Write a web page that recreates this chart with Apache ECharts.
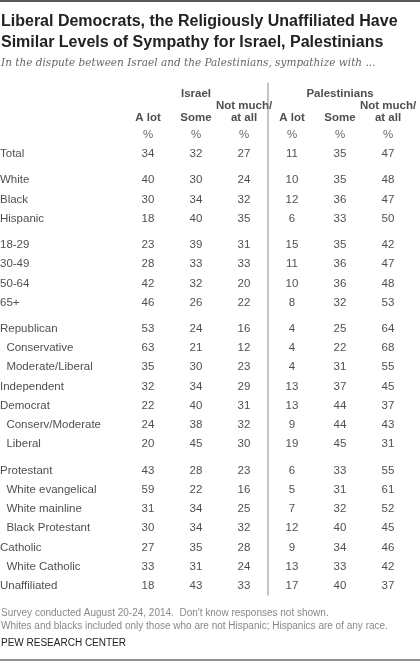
<!DOCTYPE html><html><head><meta charset="utf-8">
<script src="https://cdn.jsdelivr.net/npm/echarts@6/dist/echarts.min.js"></script>
<style>html,body{margin:0;padding:0;background:#fff}#c{width:420px;height:663px}</style></head><body><div id="c"></div>
<script>
const rowLabels=["Total","White","Black","Hispanic","18-29","30-49","50-64","65+","Republican","Conservative","Moderate/Liberal","Independent","Democrat","Conserv/Moderate","Liberal","Protestant","White evangelical","White mainline","Black Protestant","Catholic","White Catholic","Unaffiliated"];
const rowGroup=[0,1,1,1,2,2,2,2,3,3,3,3,3,3,3,4,4,4,4,4,4,4];
const rowIndent=[0,0,0,0,0,0,0,0,0,1,1,0,0,1,1,0,1,1,1,0,1,0];
const colLine1=["","","Not much/","","","Not much/"];
const colLine2=["A lot","Some","at all","A lot","Some","at all"];
const groupLabels=["Israel","Palestinians"];
const israelALot=[34,40,30,18,23,28,42,46,53,63,35,32,22,24,20,43,59,31,30,27,33,18];
const israelSome=[32,30,34,40,39,33,32,26,24,21,30,34,40,38,45,28,22,34,34,35,31,43];
const israelNot=[27,24,32,35,31,33,20,22,16,12,23,29,31,32,30,23,16,25,32,28,24,33];
const palALot=[11,10,12,6,15,11,10,8,4,4,4,13,13,9,19,6,5,7,12,9,13,17];
const palSome=[35,35,36,33,35,36,36,32,25,22,31,37,44,44,45,33,31,32,40,34,33,40];
const palNot=[47,48,47,50,42,47,48,53,64,68,55,45,37,43,31,55,61,52,45,46,42,37];
const cols=[israelALot,israelSome,israelNot,palALot,palSome,palNot];
const GAP=0.36;
const ypos=rowLabels.map((_,i)=>i+rowGroup[i]*GAP);
const last=ypos[ypos.length-1];
const font='"Liberation Sans", Arial, sans-serif';
const cells=[];
cols.forEach((arr,c)=>arr.forEach((v,r)=>cells.push([c,ypos[r],v])));
const pct=colLine2.map((_,c)=>[c,-1,'%']);
const head1=colLine1.map((l,c)=>[c,-2.5,l]);
const head2=colLine2.map((l,c)=>[c,-1.87,l]);
const ghead=groupLabels.map((l,g)=>[1+g*3,-3.12,l]);
const rows=rowLabels.map((l,i)=>[-3.083,ypos[i],(rowIndent[i]?'  ':'')+l]);
const chart=echarts.init(document.getElementById('c'));
const txt=(data,style)=>({type:'scatter',data,symbolSize:0,silent:true,clip:false,
  label:Object.assign({show:true,position:'inside',formatter:p=>String(p.value[2]),fontFamily:font,fontSize:11.5,color:'#222'},style)});
chart.setOption({
  animation:false,
  grid:{left:0,right:8,top:154-3.25*19.25,bottom:77,containLabel:false},
  xAxis:{type:'value',min:-3.083,max:5.5,show:false},
  yAxis:{type:'value',min:-3.25,max:last,inverse:true,show:false},
  graphic:[
    {type:'line',shape:{x1:0,y1:1,x2:420,y2:1},style:{stroke:'#222',lineWidth:1.5}},
    {type:'text',left:1,top:11,style:{text:'Liberal Democrats, the Religiously Unaffiliated Have\nSimilar Levels of Sympathy for Israel, Palestinians',font:'bold 16px '+font,fill:'#222',lineHeight:21}},
    {type:'text',left:1,top:58,style:{text:'In the dispute between Israel and the Palestinians, sympathize with ...',font:'italic 10.5px "DejaVu Serif", Georgia, serif',fill:'#666'}},
    {type:'text',left:1,top:607,style:{text:"Survey conducted August 20-24, 2014.  Don't know responses not shown.\nWhites and blacks included only those who are not Hispanic; Hispanics are of any race.",font:'10px '+font,fill:'#888',lineHeight:13}},
    {type:'text',left:1,top:638,style:{text:'PEW RESEARCH CENTER',font:'10px '+font,fill:'#222'}},
    {type:'line',shape:{x1:0,y1:660,x2:420,y2:660},style:{stroke:'#222',lineWidth:1}}
  ],
  series:[
    {type:'line',data:[[2.5,-3.7],[2.5,last+0.5]],symbol:'none',clip:false,silent:true,lineStyle:{color:'#888',width:1}},
    txt(cells,{}),
    txt(pct,{color:'#444'}),
    txt(head1,{fontWeight:'bold'}),
    txt(head2,{fontWeight:'bold'}),
    txt(ghead,{fontWeight:'bold'}),
    txt(rows,{position:'right',distance:0,align:'left'})
  ]
});
</script></body></html>
